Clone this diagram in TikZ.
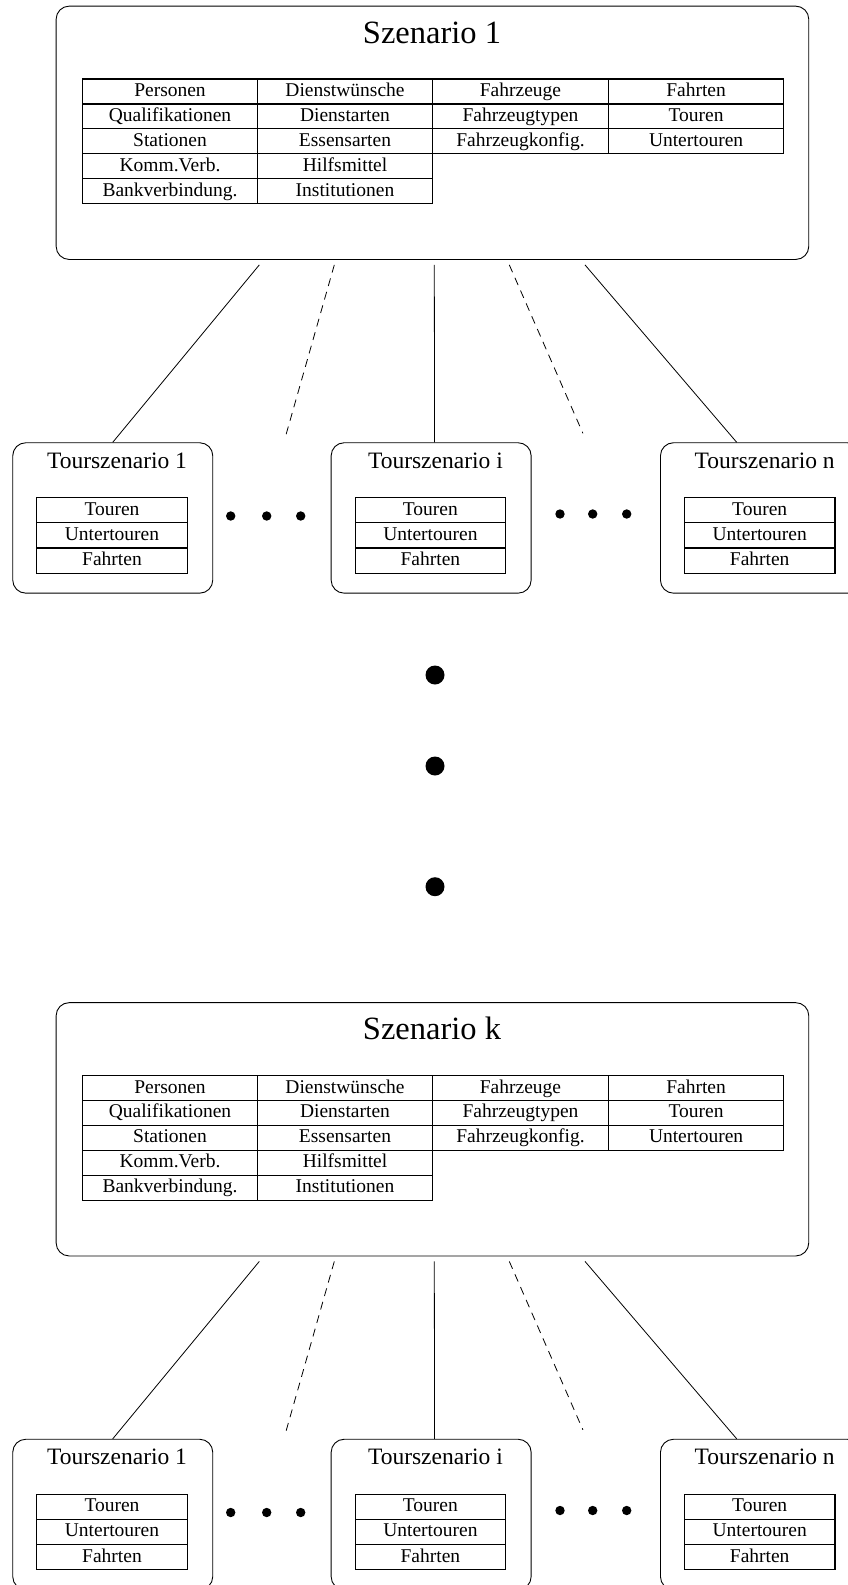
\documentclass[tikz,border=0pt]{standalone}
\usepackage{fontspec}
\setmainfont{Liberation Serif}
\usetikzlibrary{calc}
\begin{document}
\begin{tikzpicture}[x=1pt,y=-1pt,
  frame/.style={draw, rounded corners=13pt, line width=0.9pt, inner sep=0pt, anchor=north west},
  cell/.style={draw, line width=1.1pt, minimum width=175.5pt, minimum height=24.94pt,
    inner sep=0pt, text height=13pt, text depth=3pt, font=\fontsize{19.5}{22}\selectfont},
  tcell/.style={cell, minimum width=150.6pt, minimum height=25.1pt},
  heading/.style={anchor=base, inner sep=0pt, font=\fontsize{32.5}{36}\selectfont},
  subheading/.style={anchor=base, inner sep=0pt, font=\fontsize{23.5}{26}\selectfont},
  link/.style={line width=0.8pt},
  dashlink/.style={link, dash pattern=on 8pt off 6pt},
  smalldot/.style={circle, fill, inner sep=0pt, minimum size=9.4pt},
  bigdot/.style={circle, fill, inner sep=0pt, minimum size=19pt},
]
\useasboundingbox (0,0) rectangle (848,1585);

% two scenario blocks, each with its tour scenarios below
\foreach \p/\dy/\ttl in {a/0/1, b/996.5/k} {
  \begin{scope}[yshift=-\dy pt]
    \node[frame, minimum width=752.6pt, minimum height=253.3pt] (\p S) at (55.7,5.7) {};
    \node[heading] (\p T) at (432,43) {Szenario \ttl};
    % data tables of the scenario
    \foreach \txt [count=\r] in {Personen, Qualifikationen, Stationen, Komm.Verb., Bankverbindung.}
      \node[cell] (\p c1\r) at (170,{66.56+24.94*\r}) {\txt};
    \foreach \txt [count=\r] in {Dienstwünsche, Dienstarten, Essensarten, Hilfsmittel, Institutionen}
      \node[cell] (\p c2\r) at (345,{66.56+24.94*\r}) {\txt};
    \foreach \txt [count=\r] in {Fahrzeuge, Fahrzeugtypen, Fahrzeugkonfig.}
      \node[cell] (\p c3\r) at (520.5,{66.56+24.94*\r}) {\txt};
    \foreach \txt [count=\r] in {Fahrten, Touren, Untertouren}
      \node[cell] (\p c4\r) at (696.1,{66.56+24.94*\r}) {\txt};
    % tour scenarios
    \foreach \q/\lx/\ttt in {1/12.3/1, 2/330.7/i, 3/660/n} {
      \node[frame, minimum width=200pt, minimum height=150.4pt] (\p t\q) at (\lx,442.3) {};
      \node[subheading] (\p h\q) at ({\lx+104.7},468) {Tourszenario \ttt};
      \node[tcell] (\p u\q1) at ({\lx+99.7},510.3) {Touren};
      \node[tcell] (\p u\q2) at ({\lx+99.7},535.4) {Untertouren};
      \node[tcell] (\p u\q3) at ({\lx+99.7},560.5) {Fahrten};
    }
    % ellipsis dots between tour scenarios
    \node[smalldot] (\p d1) at (230.7,516) {};
    \node[smalldot] (\p d2) at (266.7,516) {};
    \node[smalldot] (\p d3) at (300.7,516) {};
    \node[smalldot] (\p d4) at (560,514) {};
    \node[smalldot] (\p d5) at (592.7,514) {};
    \node[smalldot] (\p d6) at (626.7,514) {};
    % connector ends
    \coordinate (\p o1) at ($(\p S.south west)+(203.6,5)$);
    \coordinate (\p o2) at ($(\p S.south west)+(278.6,5)$);
    \coordinate (\p o3) at ($(\p S.south west)+(378.6,5)$);
    \coordinate (\p o4) at ($(\p S.south west)+(453.6,5)$);
    \coordinate (\p o5) at ($(\p S.south west)+(529.3,5)$);
    \coordinate (\p e2) at ($(\p t2.north west)+(-45.7,-4)$);
    \coordinate (\p e4) at ($(\p t2.north east)+(51.3,-9)$);
    \draw[link] (\p o1) -- (\p t1.north);
    \draw[dashlink] (\p o2) -- (\p e2);
    \draw[link] (\p o3) -- ($(\p t2.north)+(3.4,0)$);
    \draw[dashlink] (\p o4) -- (\p e4);
    \draw[link] (\p o5) -- ($(\p t3.north west)+(76.7,0)$);
  \end{scope}
}

% vertical ellipsis between the scenarios
\node[bigdot] (v1) at (435,675) {};
\node[bigdot] (v2) at (435,766) {};
\node[bigdot] (v3) at (435,886.7) {};
\end{tikzpicture}
\end{document}
